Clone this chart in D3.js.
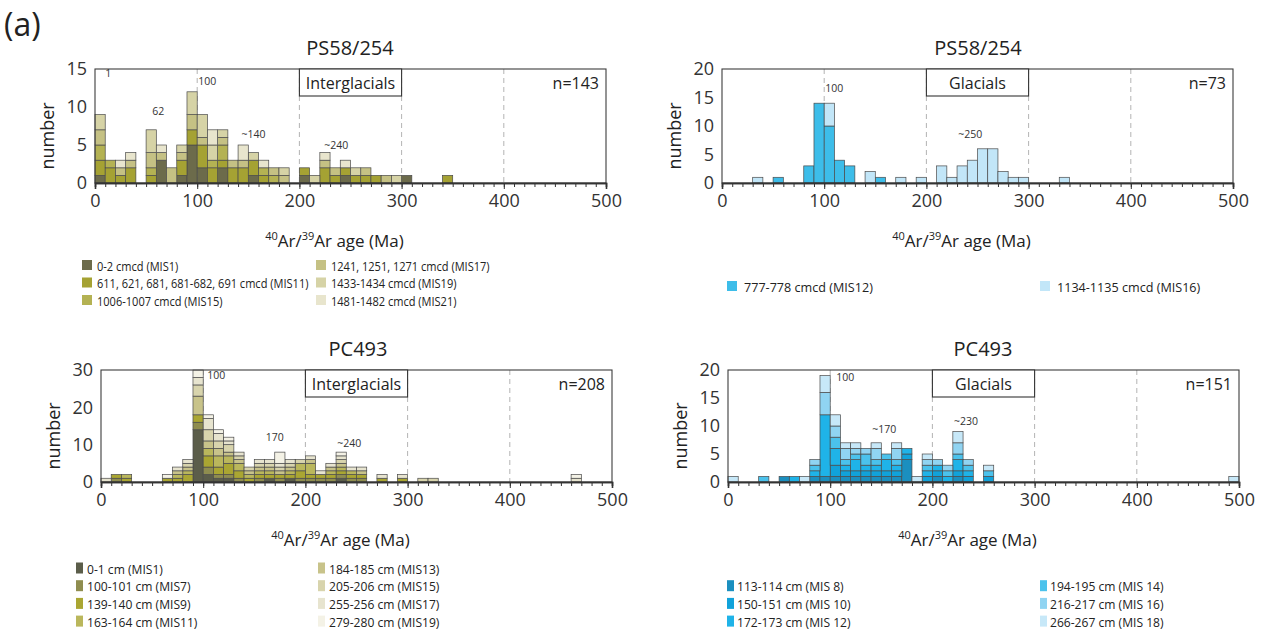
<!DOCTYPE html>
<html>
<head>
<meta charset="utf-8">
<script src="https://cdn.jsdelivr.net/npm/d3@7"></script>
<style>
  body { margin: 0; background: #fff; }
  svg { font-family: "Open Sans", "Noto Sans", sans-serif; }
</style>
</head>
<body>
<svg id="chart" width="1266" height="639"></svg>
<script>
// ---------------- data ----------------
// 40Ar/39Ar ages binned in 10 Ma steps; each array gives grain counts per bin start age.

// PS58/254 interglacial samples
const ps58InterBins = [0,10,20,30,50,60,70,80,90,100,110,120,130,140,150,160,170,180,200,210,220,230,240,250,260,270,280,290,300,340];
const ps58InterKeys = ["0-2 cmcd (MIS1)", "611, 621, 681, 681-682, 691 cmcd (MIS11)", "1006-1007 cmcd (MIS15)",
                       "1241, 1251, 1271 cmcd (MIS17)", "1433-1434 cmcd (MIS19)", "1481-1482 cmcd (MIS21)"];
const ps58InterMIS1  = [1,0,0,0,0,3,0,1,5,2,0,2,0,0,1,0,0,0,1,0,0,0,1,0,0,0,0,0,1,0];
const ps58InterMIS11 = [2,2,1,2,1,0,0,2,2,3,2,1,2,2,2,1,0,0,1,0,2,1,1,1,1,1,0,0,0,1];
const ps58InterMIS15 = [2,1,0,0,1,0,0,0,0,0,1,2,0,0,0,1,1,0,0,0,0,0,0,0,0,0,0,0,0,0];
const ps58InterMIS17 = [2,0,1,1,2,1,2,1,2,1,0,1,1,1,0,0,1,1,0,0,1,1,0,0,1,0,1,0,0,0];
const ps58InterMIS19 = [2,0,0,0,3,0,0,1,3,3,2,1,0,0,1,0,0,1,0,1,0,0,0,1,0,0,0,1,0,0];
const ps58InterMIS21 = [0,0,1,1,0,1,0,0,0,0,2,0,0,2,0,1,0,0,0,0,1,0,1,0,0,0,0,0,0,0];

// PS58/254 glacial samples
const ps58GlacBins = [30,50,80,90,100,110,120,140,150,170,190,210,220,230,240,250,260,270,280,290,330];
const ps58GlacKeys = ["777-778 cmcd (MIS12)", "1134-1135 cmcd (MIS16)"];
const ps58GlacMIS12 = [0,1,3,14,10,4,3,0,1,0,0,0,0,0,0,0,0,0,0,0,0];
const ps58GlacMIS16 = [1,0,0,0,4,0,0,2,0,1,1,3,1,3,4,6,6,2,1,1,1];

// PC493 interglacial samples
const pc493InterBins = [0,10,20,60,70,80,90,100,110,120,130,140,150,160,170,180,190,200,210,220,230,240,250,270,290,310,320,460];
const pc493InterKeys = ["0-1 cm (MIS1)", "100-101 cm (MIS7)", "139-140 cm (MIS9)", "163-164 cm (MIS11)",
                        "184-185 cm (MIS13)", "205-206 cm (MIS15)", "255-256 cm (MIS17)", "279-280 cm (MIS19)"];
const pc493InterMIS1  = [0,0,0,0,0,0,14,2,1,1,0,0,0,1,0,1,0,0,0,0,1,0,0,0,0,0,0,0];
const pc493InterMIS7  = [0,1,0,0,0,0,2,2,1,1,1,0,1,0,1,0,1,1,1,1,1,1,1,0,0,0,0,0];
const pc493InterMIS9  = [0,1,1,1,1,2,2,3,2,3,2,1,1,1,1,1,2,1,1,1,1,1,1,1,1,0,0,0];
const pc493InterMIS11 = [0,0,1,0,1,1,0,2,3,2,2,1,1,1,0,1,2,3,0,1,1,1,0,0,0,0,0,0];
const pc493InterMIS13 = [0,0,0,0,1,1,5,2,2,1,1,1,1,1,1,1,0,1,0,1,1,0,1,0,0,0,0,0];
const pc493InterMIS15 = [0,0,0,0,0,1,3,3,2,2,1,1,1,1,1,1,1,0,0,0,1,0,0,0,0,1,1,0];
const pc493InterMIS17 = [1,0,0,0,1,1,2,3,2,1,1,0,1,1,1,1,0,1,1,1,1,1,1,1,1,0,0,1];
const pc493InterMIS19 = [0,0,0,1,0,0,2,1,1,1,0,0,0,0,3,0,0,0,0,0,1,0,0,0,0,0,0,1];

// PC493 glacial samples
const pc493GlacBins = [0,30,50,60,70,80,90,100,110,120,130,140,150,160,170,180,190,200,210,220,230,250,490];
const pc493GlacKeys = ["113-114 cm (MIS 8)", "150-151 cm (MIS 10)", "172-173 cm (MIS 12)",
                       "194-195 cm (MIS 14)", "216-217 cm (MIS 16)", "266-267 cm (MIS 18)"];
const pc493GlacMIS8  = [0,0,1,0,0,1,1,1,1,1,1,1,1,1,4,0,0,1,0,1,0,0,0];
const pc493GlacMIS10 = [0,0,0,0,0,0,0,2,1,1,1,1,1,1,1,0,1,1,0,1,1,1,0];
const pc493GlacMIS12 = [0,0,0,1,0,1,11,3,1,2,1,1,2,1,1,0,1,1,1,2,1,0,0];
const pc493GlacMIS14 = [0,1,0,0,0,1,0,2,1,1,2,1,1,1,0,0,1,0,1,1,1,1,0];
const pc493GlacMIS16 = [0,0,0,0,0,1,4,2,2,1,1,2,0,2,0,0,1,1,1,2,1,0,0];
const pc493GlacMIS18 = [1,0,0,0,1,0,3,2,1,1,0,1,0,1,0,1,1,0,0,2,0,1,1];

// peak annotations: [label, age (Ma), count level]
const ps58InterPeaks  = [["1", 13, 14.0], ["62", 62, 9.0], ["100", 101, 12.9, "start"], ["~140", 155, 5.9], ["~240", 236, 4.5]];
const ps58GlacPeaks   = [["100", 101, 15.9, "start"], ["~250", 243, 7.9]];
const pc493InterPeaks = [["100", 104, 27.6, "start"], ["170", 170, 10.9], ["~240", 243, 9.5]];
const pc493GlacPeaks  = [["100", 106, 18.0, "start"], ["~170", 153, 8.7], ["~230", 233, 10.1]];

const sampleCounts = { ps58Inter: 143, ps58Glac: 73, pc493Inter: 208, pc493Glac: 151 };
const xTicks = [0, 100, 200, 300, 400, 500];
const guideAges = [100, 200, 300, 400];
const binWidth = 10;

// ---------------- drawing ----------------
const svg = d3.select("#chart");

svg.append("text").attr("x", 4).attr("y", 36)
  .attr("font-size", 32).attr("fill", "#222").text("(a)");

function drawPanel(cfg) {
  const g = svg.append("g");
  const x = d3.scaleLinear().domain([0, 500]).range([cfg.left, cfg.right]);
  const y = d3.scaleLinear().domain([0, cfg.ymax]).range([cfg.bottom, cfg.top]);

  // title
  g.append("text").attr("x", cfg.titleX).attr("y", cfg.top - 14)
    .attr("text-anchor", "middle").attr("font-size", 20).attr("fill", "#222").text(cfg.title);

  // dashed age guides
  g.selectAll("line.guide").data(guideAges).join("line")
    .attr("x1", d => x(d)).attr("x2", d => x(d))
    .attr("y1", cfg.top).attr("y2", cfg.bottom)
    .attr("stroke", "#a0a0a0").attr("stroke-width", 0.8).attr("stroke-dasharray", "5,4");

  // stacked histogram
  const rows = cfg.bins.map((b, i) => {
    const r = { age: b };
    cfg.keys.forEach((k, j) => { r[k] = cfg.values[j][i]; });
    return r;
  });
  const stacked = d3.stack().keys(cfg.keys)(rows);
  g.selectAll("g.layer").data(stacked).join("g")
    .attr("fill", (d, i) => cfg.colors[i])
    .selectAll("rect").data(d => d.filter(s => s[1] > s[0])).join("rect")
    .attr("x", d => x(d.data.age))
    .attr("width", d => x(d.data.age + binWidth) - x(d.data.age))
    .attr("y", d => y(d[1]))
    .attr("height", d => y(d[0]) - y(d[1]))
    .attr("stroke", "#4a4a4a").attr("stroke-width", 0.7);

  // frame
  g.append("rect").attr("x", cfg.left).attr("y", cfg.top)
    .attr("width", cfg.right - cfg.left).attr("height", cfg.bottom - cfg.top)
    .attr("fill", "none").attr("stroke", "#3c3c3c").attr("stroke-width", 1.1);

  // x axis: minor ticks every 10 Ma, labelled ticks every 100 Ma
  const minor = d3.axisBottom(x).tickValues(d3.range(0, 501, 10)).tickSize(4).tickFormat("");
  const major = d3.axisBottom(x).tickValues(xTicks).tickSize(6).tickPadding(5).tickFormat(d3.format("d"));
  const gx1 = g.append("g").attr("transform", `translate(0,${cfg.bottom})`).call(minor);
  const gx2 = g.append("g").attr("transform", `translate(0,${cfg.bottom})`).call(major);
  [gx1, gx2].forEach(a => {
    a.select(".domain").attr("stroke", "#333").attr("stroke-width", 1.6);
    a.selectAll(".tick line").attr("stroke", "#333").attr("stroke-width", 1);
  });
  gx2.selectAll(".tick text").attr("font-size", 18).attr("fill", "#333")
    .attr("font-family", "'Open Sans', sans-serif");

  // y axis
  const gy = g.append("g").attr("transform", `translate(${cfg.left},0)`)
    .call(d3.axisLeft(y).tickValues(cfg.yTicks).tickSize(0).tickPadding(8));
  gy.select(".domain").remove();
  gy.selectAll(".tick text").attr("font-size", 18).attr("fill", "#333")
    .attr("font-family", "'Open Sans', sans-serif");

  // axis titles
  g.append("text")
    .attr("transform", `translate(${cfg.left - 41},${(cfg.top + cfg.bottom) / 2 + 10}) rotate(-90)`)
    .attr("text-anchor", "middle").attr("font-size", 18).attr("fill", "#222").text("number");

  const xl = g.append("text").attr("x", (cfg.left + cfg.right) / 2 - 16).attr("y", cfg.bottom + 64)
    .attr("text-anchor", "middle").attr("font-size", 17).attr("fill", "#222");
  xl.append("tspan").attr("font-size", 11).attr("dy", -7).text("40");
  xl.append("tspan").attr("dy", 7).text("Ar/");
  xl.append("tspan").attr("font-size", 11).attr("dy", -7).text("39");
  xl.append("tspan").attr("dy", 7).text("Ar age (Ma)");

  // regime box
  g.append("rect").attr("x", x(200)).attr("y", cfg.top)
    .attr("width", x(300) - x(200)).attr("height", 27)
    .attr("fill", "#fff").attr("stroke", "#333").attr("stroke-width", 1.1);
  g.append("text").attr("x", (x(200) + x(300)) / 2).attr("y", cfg.top + 19.5)
    .attr("text-anchor", "middle").attr("font-size", 16).attr("fill", "#222").text(cfg.regime);

  // sample size
  g.append("text").attr("x", cfg.right - 7).attr("y", cfg.top + 20)
    .attr("text-anchor", "end").attr("font-size", 16).attr("fill", "#222").text("n=" + cfg.n);

  // peak labels
  g.selectAll("text.peak").data(cfg.peaks).join("text")
    .attr("x", d => x(d[1])).attr("y", d => y(d[2]))
    .attr("text-anchor", d => d[3] || "middle")
    .attr("font-size", 10.5).attr("fill", "#333").text(d => d[0]);

  // legend
  const lg = g.append("g");
  cfg.keys.forEach((k, i) => {
    const col = i < cfg.legendSplit ? 0 : 1;
    const row = (col === 0 ? i : i - cfg.legendSplit) + cfg.legendRow0;
    const sx = cfg.legendX[col];
    const sy = cfg.legendY + row * cfg.legendStep;
    lg.append("rect").attr("x", sx).attr("y", sy - cfg.swatch[1] / 2 - 1)
      .attr("width", cfg.swatch[0]).attr("height", cfg.swatch[1]).attr("fill", cfg.colors[i]);
    lg.append("text")
      .attr("transform", `translate(${sx + cfg.swatch[0] + cfg.textGap},${sy + 4.5}) scale(${cfg.textScale},1)`)
      .attr("font-size", cfg.legendFont).attr("fill", "#222").text(k);
  });
}

drawPanel({
  title: "PS58/254", titleX: 350, regime: "Interglacials", n: sampleCounts.ps58Inter,
  left: 95, right: 606, top: 69, bottom: 183, ymax: 15, yTicks: [0, 5, 10, 15],
  bins: ps58InterBins, keys: ps58InterKeys,
  values: [ps58InterMIS1, ps58InterMIS11, ps58InterMIS15, ps58InterMIS17, ps58InterMIS19, ps58InterMIS21],
  colors: ["#6c6b4b", "#a5a233", "#b4b253", "#c5c184", "#d6d3a6", "#e8e5cd"],
  peaks: ps58InterPeaks,
  legendSplit: 3, legendRow0: 0, legendX: [82, 316], legendY: 266, legendStep: 17.5,
  swatch: [10, 10], textGap: 5, textScale: 0.85, legendFont: 13
});

drawPanel({
  title: "PS58/254", titleX: 978, regime: "Glacials", n: sampleCounts.ps58Glac,
  left: 722, right: 1233, top: 69, bottom: 183, ymax: 20, yTicks: [0, 5, 10, 15, 20],
  bins: ps58GlacBins, keys: ps58GlacKeys,
  values: [ps58GlacMIS12, ps58GlacMIS16],
  colors: ["#3dbde9", "#c2e6f8"],
  peaks: ps58GlacPeaks,
  legendSplit: 1, legendRow0: 0, legendX: [727, 1040], legendY: 287, legendStep: 17.5,
  swatch: [10, 10], textGap: 7, textScale: 0.97, legendFont: 13
});

drawPanel({
  title: "PC493", titleX: 358, regime: "Interglacials", n: sampleCounts.pc493Inter,
  left: 101, right: 612, top: 370, bottom: 482, ymax: 30, yTicks: [0, 10, 20, 30],
  bins: pc493InterBins, keys: pc493InterKeys,
  values: [pc493InterMIS1, pc493InterMIS7, pc493InterMIS9, pc493InterMIS11,
           pc493InterMIS13, pc493InterMIS15, pc493InterMIS17, pc493InterMIS19],
  colors: ["#5b5d4a", "#8f8d4f", "#aaa632", "#bab75c", "#c8c38a", "#d8d4ad", "#e7e4cf", "#f4f2e6"],
  peaks: pc493InterPeaks,
  legendSplit: 4, legendRow0: 0, legendX: [76, 318], legendY: 569, legendStep: 17.7,
  swatch: [7, 11], textGap: 4, textScale: 0.93, legendFont: 13
});

drawPanel({
  title: "PC493", titleX: 983, regime: "Glacials", n: sampleCounts.pc493Glac,
  left: 728, right: 1239, top: 370, bottom: 482, ymax: 20, yTicks: [0, 5, 10, 15, 20],
  bins: pc493GlacBins, keys: pc493GlacKeys,
  values: [pc493GlacMIS8, pc493GlacMIS10, pc493GlacMIS12, pc493GlacMIS14, pc493GlacMIS16, pc493GlacMIS18],
  colors: ["#1b8fbf", "#11a2da", "#1fb3e8", "#4bc2ec", "#90d4f2", "#c7e8f8"],
  peaks: pc493GlacPeaks,
  legendSplit: 3, legendRow0: 1, legendX: [727, 1040], legendY: 569, legendStep: 17.7,
  swatch: [7, 11], textGap: 3, textScale: 0.93, legendFont: 13
});
</script>
</body>
</html>
